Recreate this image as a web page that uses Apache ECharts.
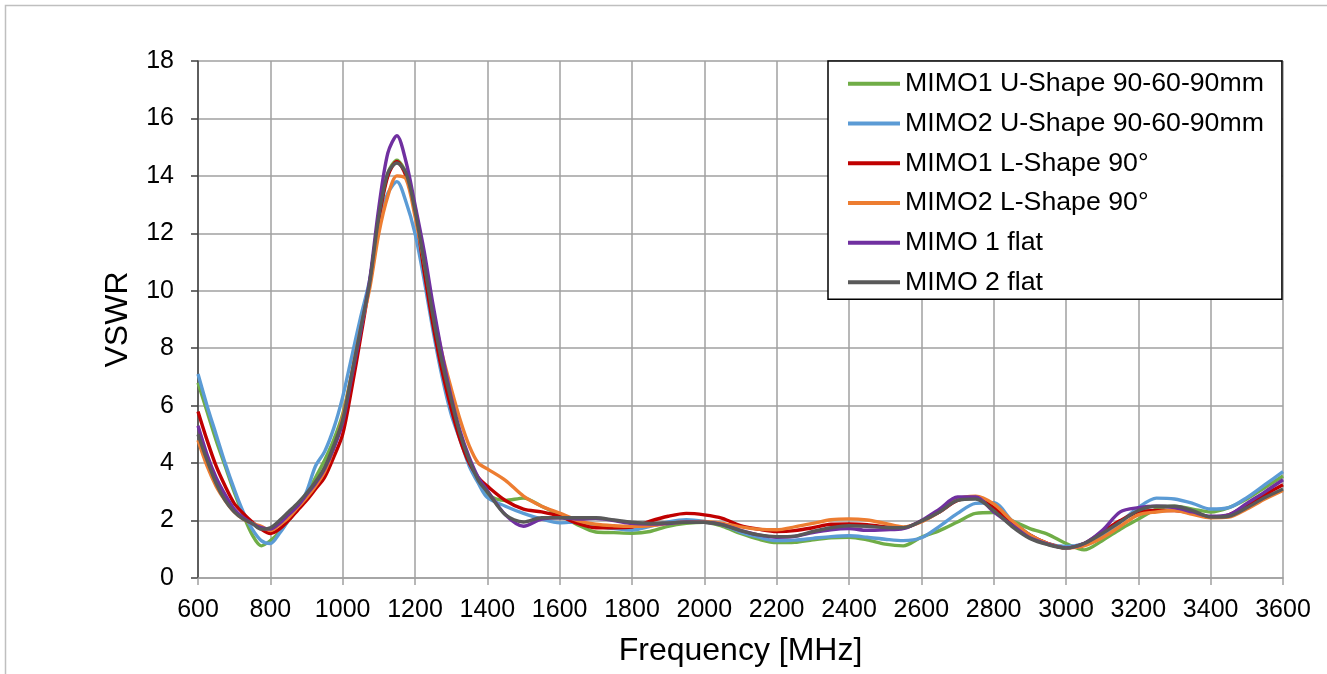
<!DOCTYPE html>
<html>
<head>
<meta charset="utf-8">
<script src="https://cdn.jsdelivr.net/npm/echarts/dist/echarts.min.js"></script>
<style>
html,body{margin:0;padding:0;background:#fff;}
#chart{width:1327px;height:674px;}
</style>
</head>
<body>
<div id="chart"></div>
<script>
// Frequency points (MHz)
const freqA = [600,625,650,675,700,725,750,775,800,825,850,875,900,925,950,975,1000,1025,1050,1075,1100,1125,1150,1175,1200,1225,1250,1275,1300,1325,1350,1375,1400];
const freqB = [1450,1500,1550,1600,1650,1700,1750,1800,1850,1900,1950,2000,2050,2100,2150,2200,2250,2300,2350,2400,2450,2500,2550,2600,2650,2700,2750,2800,2850,2900,2950,3000,3050,3100,3150,3200,3250,3300,3350,3400,3450,3500,3550,3600];
const freq = freqA.concat(freqB);

const seriesNames = ["MIMO1 U-Shape 90-60-90mm","MIMO2 U-Shape 90-60-90mm","MIMO1 L-Shape 90°","MIMO2 L-Shape 90°","MIMO 1 flat","MIMO 2 flat"];

const mimo1U = [6.8,5.8,4.8,3.9,3.0,2.2,1.5,1.12,1.3,1.6,2.0,2.4,2.9,3.5,4.1,4.8,5.7,7.1,8.7,10.3,12.5,14.1,14.55,14.1,12.9,11.0,9.1,7.5,6.1,5.0,4.1,3.4,2.9,
  2.7,2.78,2.5,2.2,1.85,1.6,1.58,1.56,1.62,1.8,1.9,1.94,1.8,1.55,1.35,1.23,1.24,1.33,1.4,1.42,1.33,1.18,1.12,1.42,1.65,1.95,2.25,2.28,2.0,1.72,1.52,1.2,0.98,1.3,1.7,2.05,2.4,2.5,2.4,2.3,2.45,2.75,3.15,3.55];
const mimo2U = [7.1,6.0,5.0,4.0,3.1,2.3,1.7,1.3,1.2,1.55,2.0,2.4,3.0,3.9,4.4,5.2,6.3,7.7,9.1,10.4,12.4,13.4,13.8,13.1,12.0,10.4,8.6,7.0,5.7,4.8,3.9,3.3,2.8,
  2.5,2.25,2.05,1.92,1.95,1.8,1.72,1.67,1.8,1.95,2.03,1.97,1.85,1.6,1.42,1.3,1.32,1.38,1.44,1.47,1.42,1.35,1.3,1.4,1.8,2.25,2.6,2.62,2.0,1.5,1.2,1.1,1.2,1.5,1.95,2.45,2.78,2.75,2.6,2.4,2.45,2.8,3.25,3.7];
const mimo1L = [5.8,4.8,3.9,3.2,2.6,2.25,1.95,1.7,1.55,1.7,2.0,2.35,2.7,3.1,3.5,4.2,5.0,6.6,8.4,10.3,12.5,14.0,14.5,14.0,12.8,10.7,8.8,7.2,5.9,4.8,4.0,3.5,3.2,
  2.7,2.4,2.3,2.15,1.9,1.75,1.75,1.77,1.98,2.15,2.25,2.2,2.08,1.82,1.7,1.62,1.65,1.75,1.87,1.88,1.86,1.78,1.75,1.98,2.3,2.7,2.78,2.45,1.95,1.5,1.2,1.05,1.2,1.6,2.0,2.3,2.35,2.35,2.25,2.12,2.2,2.55,2.9,3.25];
const mimo2L = [4.8,3.9,3.2,2.7,2.3,2.05,1.9,1.8,1.65,1.85,2.1,2.45,2.8,3.2,3.7,4.5,5.6,7.1,8.7,10.1,12.0,13.3,14.0,13.9,12.6,11.0,9.3,7.8,6.6,5.5,4.6,4.0,3.8,
  3.4,2.85,2.5,2.26,2.0,1.87,1.82,1.8,1.82,1.9,1.95,1.97,1.9,1.78,1.7,1.68,1.78,1.9,2.03,2.06,2.02,1.9,1.78,1.95,2.3,2.75,2.85,2.58,2.0,1.5,1.2,1.05,1.12,1.4,1.8,2.2,2.3,2.35,2.22,2.1,2.12,2.4,2.75,3.05];
const mimo1Flat = [5.3,4.3,3.5,2.9,2.4,2.1,1.9,1.75,1.7,1.9,2.2,2.5,2.9,3.3,3.8,4.5,5.4,7.0,8.6,10.4,12.9,14.8,15.4,14.5,13.0,11.4,9.5,7.8,6.3,5.1,4.2,3.5,3.05,
  2.2,1.8,2.05,2.1,2.05,2.08,2.0,1.9,1.88,1.9,1.95,1.94,1.86,1.66,1.5,1.42,1.45,1.58,1.68,1.72,1.66,1.68,1.72,2.0,2.4,2.82,2.82,2.3,1.85,1.4,1.18,1.05,1.2,1.65,2.3,2.45,2.5,2.45,2.3,2.15,2.2,2.6,3.0,3.42];
const mimo2Flat = [5.0,4.1,3.3,2.7,2.3,2.05,1.9,1.7,1.75,2.0,2.3,2.6,2.95,3.35,3.85,4.6,5.5,7.1,8.7,10.3,12.6,14.1,14.45,14.1,12.8,11.0,9.1,7.5,6.2,5.0,4.1,3.4,3.0,
  2.2,1.95,2.1,2.1,2.1,2.1,2.02,1.94,1.9,1.92,1.94,1.94,1.85,1.65,1.5,1.44,1.46,1.62,1.75,1.82,1.8,1.76,1.75,1.98,2.3,2.7,2.75,2.35,1.8,1.38,1.16,1.04,1.2,1.55,1.95,2.35,2.5,2.5,2.35,2.12,2.15,2.45,2.8,3.1];

const seriesValues = [mimo1U, mimo2U, mimo1L, mimo2L, mimo1Flat, mimo2Flat];
const colors = ["#70AD47","#5B9BD5","#C00000","#ED7D31","#7030A0","#595959"];

const FONT = "'Liberation Sans', Arial, sans-serif";
const chart = echarts.init(document.getElementById('chart'), null, {renderer:'canvas'});

chart.setOption({
  animation: false,
  backgroundColor: '#ffffff',
  color: colors,
  graphic: [{
    type: 'rect', silent: true, z: -10,
    shape: {x: 5.5, y: 5.5, width: 1340, height: 700},
    style: {fill: 'none', stroke: '#bfbfbf', lineWidth: 1.5}
  }],
  grid: {left: 198, right: 44, top: 61, bottom: 96, containLabel: false},
  legend: {
    orient: 'vertical',
    left: 828, top: 61,
    padding: [8, 18, 2, 20],
    backgroundColor: '#ffffff',
    borderColor: '#000000', borderWidth: 1.5, borderRadius: 0,
    icon: 'rect', itemWidth: 52, itemHeight: 4, itemGap: 10,
    textStyle: {fontFamily: FONT, fontSize: 26.7, color: '#000', lineHeight: 29.7},
    data: seriesNames
  },
  xAxis: {
    type: 'value', min: 600, max: 3600, interval: 200,
    name: 'Frequency [MHz]', nameLocation: 'middle', nameGap: 57,
    nameTextStyle: {fontFamily: FONT, fontSize: 32, color: '#000'},
    axisLine: {show: true, onZero: false, lineStyle: {color: '#a0a0a0', width: 1.5}},
    axisTick: {show: true, inside: false, length: 7, lineStyle: {color: '#a0a0a0', width: 1.5}},
    axisLabel: {fontFamily: FONT, fontSize: 25, color: '#000', margin: 20, formatter: v => String(v)},
    splitLine: {show: true, lineStyle: {color: '#a0a0a0', width: 1.5}}
  },
  yAxis: {
    type: 'value', min: 0, max: 18, interval: 2,
    name: 'VSWR', nameLocation: 'middle', nameGap: 64, nameRotate: 90,
    nameTextStyle: {fontFamily: FONT, fontSize: 32, color: '#000'},
    axisLine: {show: true, lineStyle: {color: '#404040', width: 1.5}},
    axisTick: {show: true, inside: false, length: 7, lineStyle: {color: '#404040', width: 1.5}},
    axisLabel: {fontFamily: FONT, fontSize: 25, color: '#000', margin: 24, formatter: v => String(v)},
    splitLine: {show: true, lineStyle: {color: '#a0a0a0', width: 1.5}}
  },
  series: seriesNames.map((name, k) => ({
    name: name,
    type: 'line',
    smooth: 0.3,
    symbol: 'none',
    lineStyle: {width: 3.4, color: colors[k]},
    itemStyle: {color: colors[k]},
    data: freq.map((f, i) => [f, seriesValues[k][i]])
  }))
});
</script>
</body>
</html>
